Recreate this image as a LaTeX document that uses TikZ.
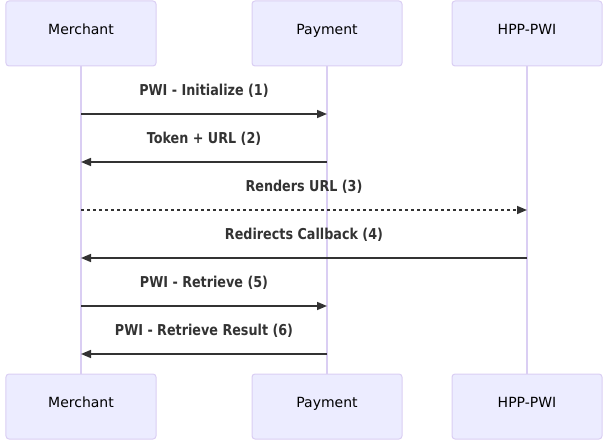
\documentclass[tikz,border=0pt]{standalone}
\usepackage{fontspec}
\setmainfont{DejaVu Sans}
\newfontfamily\msgfont{DejaVu Sans}[FakeStretch=0.85]
\usetikzlibrary{arrows.meta}
\definecolor{actfill}{RGB}{236,236,255}
\definecolor{actline}{RGB}{218,206,243}
\definecolor{msgcol}{RGB}{51,51,51}

\begin{document}
\begin{tikzpicture}[x=1bp, y=-1bp,
    actor/.style={draw=actline, fill=actfill, rounded corners=3bp, line width=1bp,
      minimum width=150bp, minimum height=65bp, text=black,
      text height=10.5bp, text depth=9.3bp,
      font=\fontsize{14bp}{16bp}\selectfont},
    life/.style={draw=actline, line width=1.5bp},
    msg/.style={draw=msgcol, line width=1.5bp, -{Triangle[length=10bp,width=8bp]}},
    dot/.style={msg, dash pattern=on 3bp off 3bp},
    msglabel/.style={text=msgcol, font=\msgfont\bfseries\fontsize{15bp}{17bp}\selectfont}]

    \useasboundingbox (0,0) rectangle (607,442);

    %les acteurs
    \node[actor] (merTop) at (81,33.5) {Merchant};
    \node[actor] (payTop) at (327,33.5) {Payment};
    \node[actor] (hppTop) at (527,33.5) {HPP-PWI};
    \node[actor] (merBot) at (81,406.5) {Merchant};
    \node[actor] (payBot) at (327,406.5) {Payment};
    \node[actor] (hppBot) at (527,406.5) {HPP-PWI};

    %les lignes de vie
    \draw[life] (merTop) -- (merBot);
    \draw[life] (payTop) -- (payBot);
    \draw[life] (hppTop) -- (hppBot);

    \newcommand{\mkmsg}[6]{
        %#1 nom, #2 y, #3 depart, #4 arrivee, #5 style, #6 texte
        \coordinate (#1a) at (#3,#2);
        \coordinate (#1b) at (#4,#2);
        \draw[#5] (#1a) -- (#1b);
        \node[msglabel] (#1t) at ({(#3+#4)/2},#2-23) {#6};
    }

    \mkmsg{m1}{114}{81}{327}{msg}{PWI - Initialize (1)}
    \mkmsg{m2}{162}{327}{81}{msg}{Token + URL (2)}
    \mkmsg{m3}{210}{81}{527}{dot}{Renders URL (3)}
    \mkmsg{m4}{258}{527}{81}{msg}{Redirects Callback (4)}
    \mkmsg{m5}{306}{81}{327}{msg}{PWI - Retrieve (5)}
    \mkmsg{m6}{354}{327}{81}{msg}{PWI - Retrieve Result (6)}

\end{tikzpicture}
\end{document}
